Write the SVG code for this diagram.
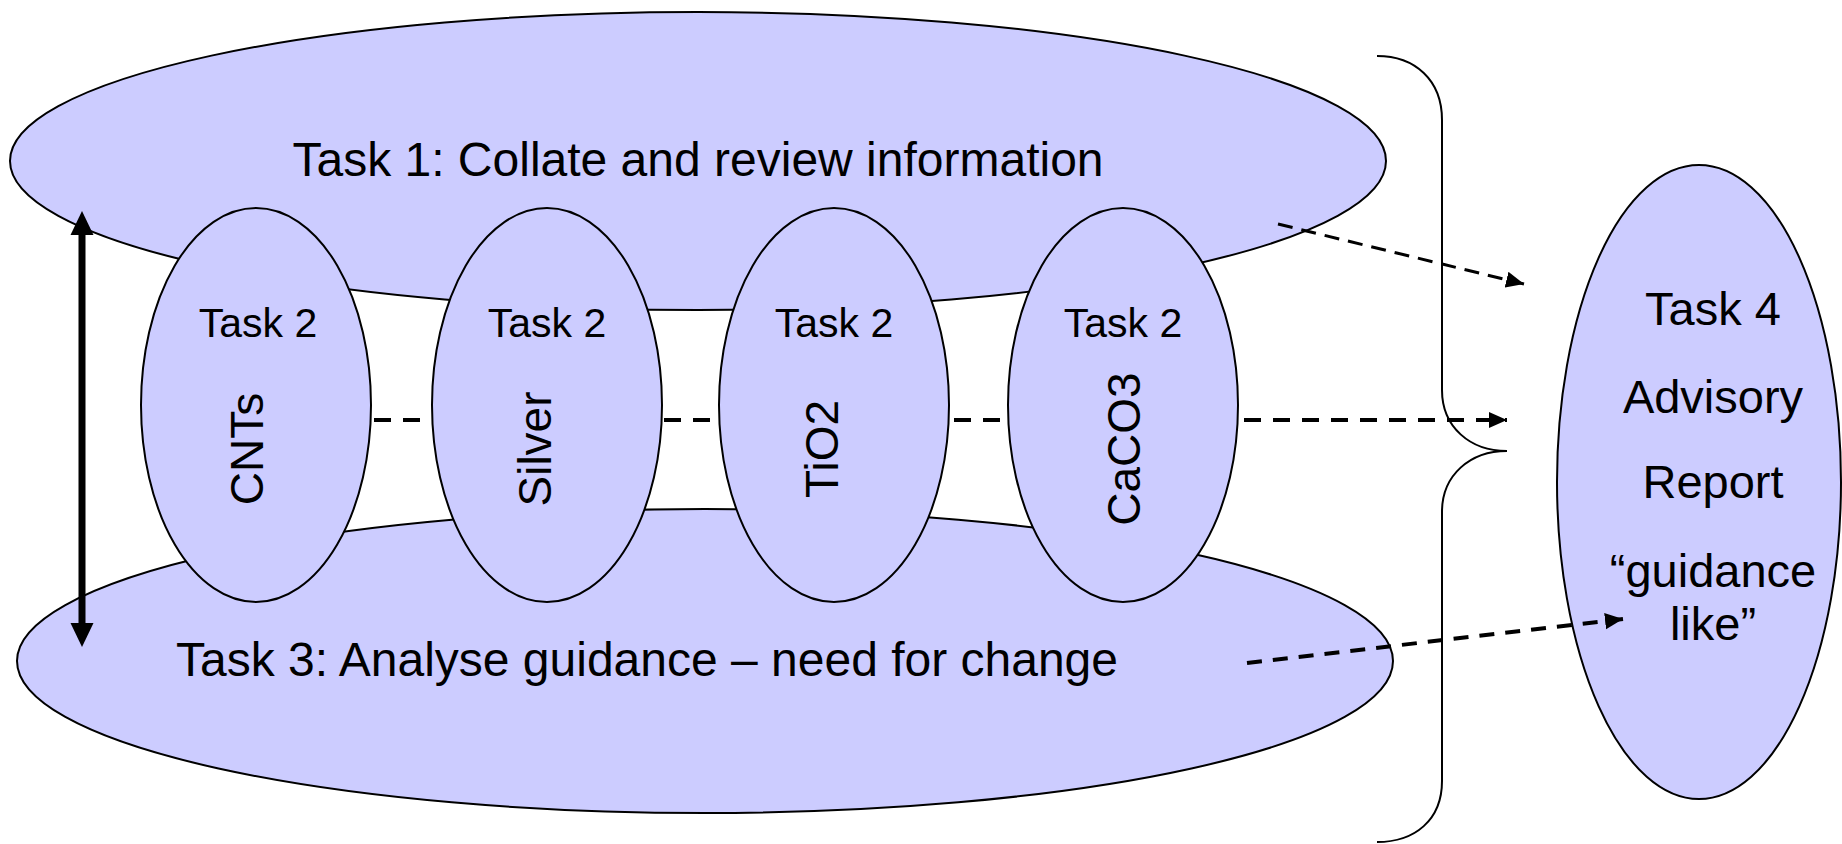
<svg xmlns="http://www.w3.org/2000/svg" width="1842" height="844" viewBox="0 0 1842 844">
<defs>
<style>
.node{fill:#CCCCFF;stroke:#000;stroke-width:2}
.t{font-family:"Liberation Sans",Arial,sans-serif;fill:#000;text-anchor:middle}
.big{font-size:48px}
.t2{font-size:41px}
.mat{font-size:46px}
.t4{font-size:47px}
.dash{fill:none;stroke:#000}
</style>
<marker id="ah" viewBox="0 0 10 10" refX="10" refY="5" markerWidth="18" markerHeight="18" markerUnits="userSpaceOnUse" orient="auto">
<path d="M0,0.5 L10,5 L0,9.5 Z" fill="#000"/>
</marker>
</defs>
<rect width="1842" height="844" fill="#fff"/>
<g id="task1">
<ellipse class="node" cx="698" cy="161" rx="688" ry="149"/>
<text class="t big" x="698" y="176">Task 1: Collate and review information</text>
</g>
<g id="task3">
<ellipse class="node" cx="705" cy="661" rx="688" ry="152"/>
<text class="t big" x="647" y="676">Task 3: Analyse guidance – need for change</text>
</g>
<g id="connectors-back">
<line class="dash" x1="374" y1="420" x2="1507" y2="420" stroke-width="4" stroke-dasharray="17 12" marker-end="url(#ah)"/>
</g>
<g id="task2-cnts">
<ellipse class="node" cx="256" cy="405" rx="115" ry="197"/>
<text class="t t2" x="258" y="337">Task 2</text>
<text class="t mat" transform="translate(263,449) rotate(-90)">CNTs</text>
</g>
<g id="task2-silver">
<ellipse class="node" cx="547" cy="405" rx="115" ry="197"/>
<text class="t t2" x="547" y="337">Task 2</text>
<text class="t mat" transform="translate(551,449) rotate(-90)">Silver</text>
</g>
<g id="task2-tio2">
<ellipse class="node" cx="834" cy="405" rx="115" ry="197"/>
<text class="t t2" x="834" y="337">Task 2</text>
<text class="t mat" transform="translate(838,449) rotate(-90)">TiO2</text>
</g>
<g id="task2-caco3">
<ellipse class="node" cx="1123" cy="405" rx="115" ry="197"/>
<text class="t t2" x="1123" y="337">Task 2</text>
<text class="t mat" transform="translate(1140,449) rotate(-90)">CaCO3</text>
</g>
<g id="task4">
<ellipse class="node" cx="1699" cy="482" rx="142" ry="317"/>
<text class="t t4" x="1713" y="325">Task 4</text>
<text class="t t4" x="1713" y="413">Advisory</text>
<text class="t t4" x="1713" y="498">Report</text>
<text class="t t4" x="1713" y="587">“guidance</text>
<text class="t t4" x="1713" y="640">like”</text>
</g>
<g id="brace">
<path d="M1377,56 C1415,56 1442,80 1442,120 L1442,390 C1442,427 1470,451 1507,451 C1470,451 1442,475 1442,512 L1442,781 C1442,820 1415,842 1377,842" fill="none" stroke="#000" stroke-width="2"/>
</g>
<g id="connectors">
<line x1="82" y1="232" x2="82" y2="626" stroke="#000" stroke-width="7"/>
<path d="M82,211 L70.5,235 L93.5,235 Z" fill="#000"/>
<path d="M82,647 L70.5,623 L93.5,623 Z" fill="#000"/>
<line class="dash" x1="1278" y1="224" x2="1524" y2="284" stroke-width="3" stroke-dasharray="15 9" marker-end="url(#ah)"/>
<line class="dash" x1="1247" y1="663" x2="1623" y2="619" stroke-width="4" stroke-dasharray="15 11" marker-end="url(#ah)"/>
</g>
</svg>
